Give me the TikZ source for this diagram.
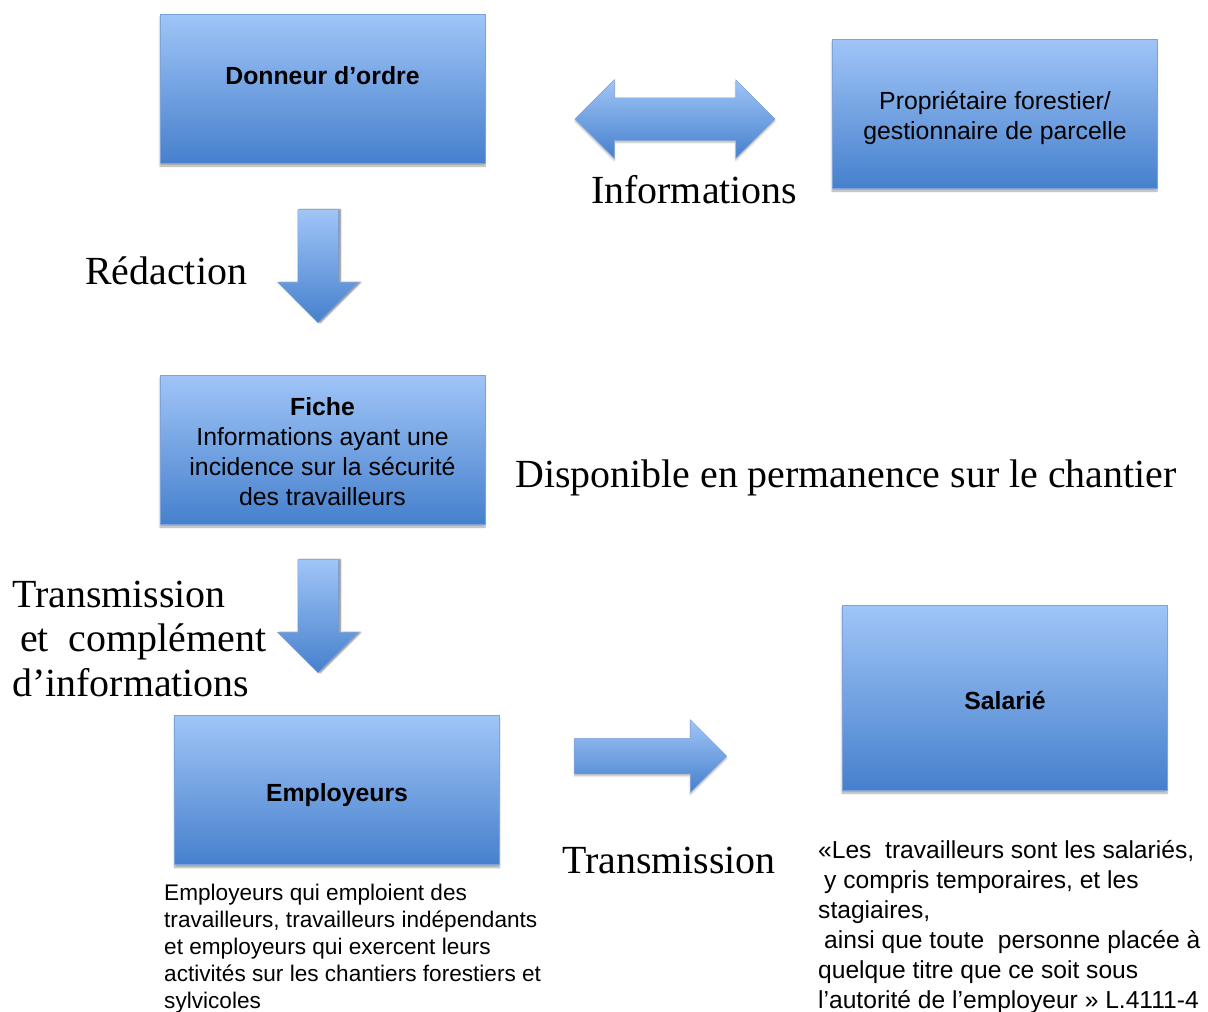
\documentclass[tikz,border=0pt]{standalone}
\usepackage{fontspec}
\setmainfont{Liberation Serif}
\setsansfont{Liberation Sans}
\usetikzlibrary{shapes.arrows,shadows.blur}

\definecolor{boxtop}{RGB}{160,197,247}
\definecolor{boxbot}{RGB}{70,128,205}
\definecolor{boxline}{RGB}{125,163,218}

\tikzset{
  box/.style={draw=boxline, line width=0.8pt, top color=boxtop, bottom color=boxbot,
    minimum width=325pt, minimum height=149pt, inner sep=0pt,
    blur shadow={shadow xshift=0pt, shadow yshift=-3pt, shadow blur steps=6, shadow opacity=35}},
  % base = ligne du bas pour les textes sur plusieurs lignes
  boxtext/.style={font=\sffamily\fontsize{24.8}{29.8}\selectfont, align=center, anchor=base},
  note/.style={font=\fontsize{39.9}{44.5}\selectfont, anchor=base west, inner sep=0pt, align=left},
  small/.style={font=\sffamily\fontsize{22.6}{27}\selectfont, anchor=base west, inner sep=0pt, align=left},
  fleche/.style={draw=boxline, line width=0.5pt, inner xsep=0pt, top color=boxtop, bottom color=boxbot,
    blur shadow={shadow xshift=0pt, shadow yshift=-2pt, shadow blur steps=4, shadow opacity=30}},
  bas/.style={fleche, single arrow, rotate=-90, anchor=tip,
    minimum height=113pt, minimum width=80pt, inner ysep=20pt, single arrow head extend=20pt,
    blur shadow={shadow xshift=2pt, shadow yshift=0pt, shadow blur steps=4, shadow opacity=30}},
}

\begin{document}
\begin{tikzpicture}[x=1pt,y=-1pt]
  \useasboundingbox (0,0) rectangle (1208,1012);

  % boites
  \node[box] (donneur) at (322.5,88.5) {};
  \node[box] (proprio) at (994.5,113.5) {};
  \node[box] (fiche) at (322.5,449.5) {};
  \node[box] (employeurs) at (337,790) {};
  \node[box, minimum height=185pt] (salarie) at (1004.5,697.5) {};

  \node[boxtext] (donneurtxt) at (322.5,84) {\bfseries Donneur d’ordre};
  \node[boxtext] (propriotxt) at (995,139) {Propriétaire forestier/\\gestionnaire de parcelle};
  \node[boxtext] (fichetxt) at (322.5,505) {\bfseries Fiche\\Informations ayant une\\incidence sur la sécurité\\des travailleurs};
  \node[boxtext] (employeurstxt) at (337,801) {\bfseries Employeurs};
  \node[boxtext] (salarietxt) at (1005,709) {\bfseries Salarié};

  % fleches
  \node[fleche, double arrow, minimum height=200pt, minimum width=78pt, inner ysep=21pt,
    double arrow head extend=18pt] (echange) at (675,119) {};
  \node[bas] (redaction) at (318,323) {};
  \node[bas] (transmission) at (318,673) {};
  \node[fleche, single arrow, anchor=tip, minimum height=152pt, minimum width=72pt,
    inner ysep=17.5pt, single arrow head extend=18.5pt] (envoi) at (727,756) {};

  % legendes
  \node[note] (infos) at (591,203) {Informations};
  \node[note] (redige) at (85,284) {Rédaction};
  \node[note] (dispo) at (515,487) {Disponible en permanence sur le chantier};
  \node[note] (complement) at (12,696) {Transmission\\\hspace*{8pt}et~ complément\\d’informations};
  \node[note] (transmet) at (562,873) {Transmission};

  \node[small] (descemp) at (164,1008) {Employeurs qui emploient des\\travailleurs, travailleurs indépendants\\et employeurs qui exercent leurs\\activités sur les chantiers forestiers et\\sylvicoles};
  \node[small, font=\sffamily\fontsize{24.6}{30}\selectfont] (descsal) at (818,1008) {«Les~ travailleurs sont les salariés,\\\hspace*{6pt}y compris temporaires, et les\\stagiaires,\\\hspace*{6pt}ainsi que toute~ personne placée à\\quelque titre que ce soit sous\\l’autorité de l’employeur » L.4111-4};
\end{tikzpicture}
\end{document}
